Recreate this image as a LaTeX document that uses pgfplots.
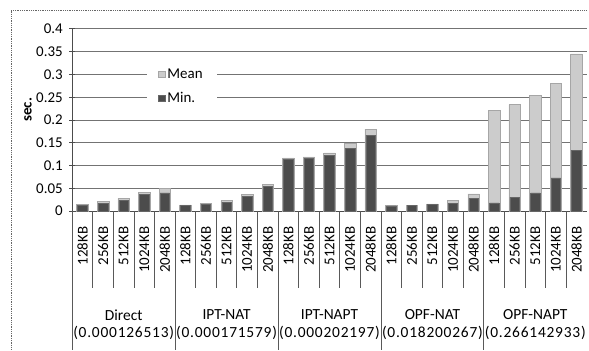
\documentclass[border=0pt]{standalone}
\usepackage{pgfplots}
\pgfplotsset{compat=1.18}
\usepackage{fontspec}
\setmainfont{Carlito}
\newcommand\cf{\fontsize{15bp}{18bp}\selectfont}
\newcommand\gf{\fontsize{15.5bp}{18bp}\selectfont}
\newcommand\nf{\fontsize{15.5bp}{18bp}\selectfont\addfontfeatures{LetterSpace=5}}
\definecolor{meanc}{gray}{0.80}
\definecolor{minc}{gray}{0.30}
\begin{document}
\begin{tikzpicture}
\path (0,0) rectangle (589bp,-351bp);
\draw[black!60, line width=0.8bp, densely dotted] (11bp,-351bp) -- (11bp,-10bp) -- (589bp,-10bp);
\begin{axis}[
  at={(72.5bp,-212bp)}, anchor=south west,
  scale only axis, width=516.5bp, height=183bp,
  xmin=-0.5, xmax=24.5, ymin=0, ymax=0.4,
  clip=false,
  axis x line*=bottom, axis y line*=left,
  axis line style={black!70, line width=0.9bp, -},
  ytick={0,0.05,0.1,0.15,0.2,0.25,0.3,0.35,0.4},
  yticklabels={0,0.05,0.1,0.15,0.2,0.25,0.3,0.35,0.4},
  yticklabel style={font=\cf, xshift=-3bp},
  ytick style={black!70, line width=0.8bp},
  tick align=center, major tick length=6bp,
  xtick={0,...,24},
  xticklabels={128KB,256KB,512KB,1024KB,2048KB,128KB,256KB,512KB,1024KB,2048KB,128KB,256KB,512KB,1024KB,2048KB,128KB,256KB,512KB,1024KB,2048KB,128KB,256KB,512KB,1024KB,2048KB},
  xticklabel style={font=\cf, rotate=90, anchor=east, xshift=-1bp},
  xtick style={draw=none},
  xticklabel shift=8bp,
  ymajorgrids, grid style={black!55, line width=0.9bp},
  ylabel={\textbf{sec.}},
  ylabel style={font=\cf, at={(axis description cs:-0.086,0.557)}, anchor=center},
  legend style={at={(axis description cs:0.144,0.81)}, anchor=north west, draw=none, fill=white, font=\cf, row sep=9bp, inner xsep=12bp, inner ysep=3bp},
  legend cell align=left,
  legend image code/.code={\draw[#1] (0bp,-3.2bp) rectangle (6.4bp,3.2bp);},
]
\addplot[ybar, bar width=11.5bp, bar shift=0pt, fill=meanc, draw=black!35, line width=0.6bp] coordinates {
 (0,0.015) (1,0.021) (2,0.028) (3,0.041) (4,0.050)
 (5,0.014) (6,0.017) (7,0.023) (8,0.036) (9,0.058)
 (10,0.117) (11,0.119) (12,0.128) (13,0.149) (14,0.180)
 (15,0.013) (16,0.013) (17,0.016) (18,0.024) (19,0.038)
 (20,0.222) (21,0.234) (22,0.254) (23,0.281) (24,0.345)};
\addlegendentry{Mean}
\addplot[ybar, bar width=9.5bp, bar shift=0pt, fill=minc, draw=black!60, line width=0.6bp] coordinates {
 (0,0.013) (1,0.017) (2,0.024) (3,0.037) (4,0.040)
 (5,0.012) (6,0.0145) (7,0.020) (8,0.033) (9,0.054)
 (10,0.1145) (11,0.116) (12,0.122) (13,0.137) (14,0.167)
 (15,0.0115) (16,0.012) (17,0.0145) (18,0.017) (19,0.028)
 (20,0.018) (21,0.031) (22,0.040) (23,0.073) (24,0.133)};
\addlegendentry{Min.}
\node[font=\gf] at (axis cs:2,0) [yshift=-104bp] {Direct};
\node[font=\nf] at (axis cs:2,0) [yshift=-122bp] {(0.000126513)};
\node[font=\gf] at (axis cs:7,0) [yshift=-104bp] {IPT-NAT};
\node[font=\nf] at (axis cs:7,0) [yshift=-122bp] {(0.000171579)};
\node[font=\gf] at (axis cs:12,0) [yshift=-104bp] {IPT-NAPT};
\node[font=\nf] at (axis cs:12,0) [yshift=-122bp] {(0.000202197)};
\node[font=\gf] at (axis cs:17,0) [yshift=-104bp] {OPF-NAT};
\node[font=\nf] at (axis cs:17,0) [yshift=-122bp] {(0.018200267)};
\node[font=\gf] at (axis cs:22,0) [yshift=-104bp] {OPF-NAPT};
\node[font=\nf] at (axis cs:22,0) [yshift=-122bp] {(0.266142933)};
\end{axis}
\foreach \i in {1,2,3,4,6,7,8,9,11,12,13,14,16,17,18,19,21,22,23,24}{
  \draw[black!65, line width=0.8bp] ({72.5bp+\i*20.66bp},-212bp) -- ({72.5bp+\i*20.66bp},-289bp);}
\foreach \i in {0,5,10,15,20}{
  \draw[black!65, line width=0.8bp] ({72.5bp+\i*20.66bp},-212bp) -- ({72.5bp+\i*20.66bp},-351bp);}
\end{tikzpicture}
\end{document}
